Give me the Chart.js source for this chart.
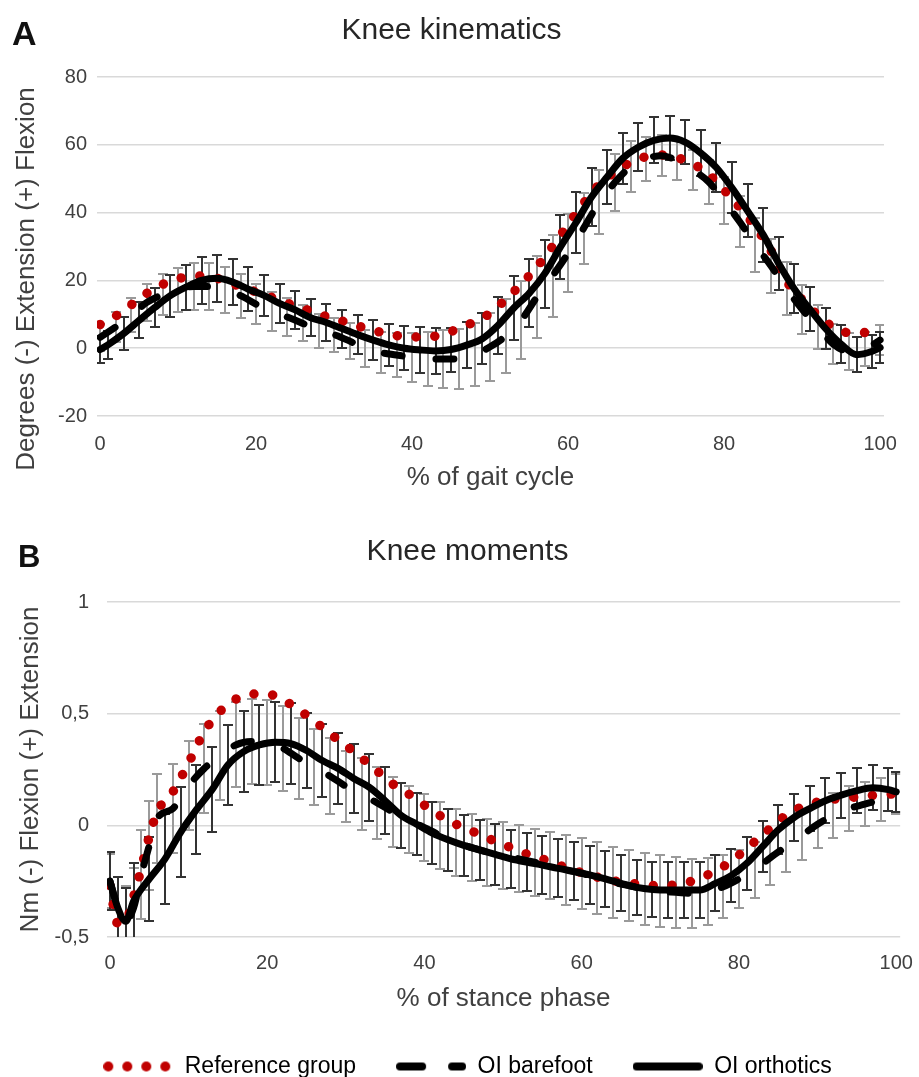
<!DOCTYPE html>
<html>
<head>
<meta charset="utf-8">
<title>Knee kinematics and knee moments</title>
<script src="https://cdn.jsdelivr.net/npm/chart.js@4.4.1/dist/chart.umd.min.js"></script>
<style>
    body { margin: 0; background: #fff; overflow: hidden; }
    .panel { position: absolute; left: 0; width: 919px; }
    .panel canvas { display: block; }
    .tag { position: absolute; font-family: 'Liberation Sans', Arial, sans-serif; font-weight: bold; line-height: 1; color: #111; }
</style>
</head>
<body>
<div class="panel" style="top:0;height:500px"><canvas id="kinematics-chart" width="919" height="500"></canvas></div>
<div class="panel" style="top:500px;height:588px"><canvas id="moments-chart" width="919" height="588"></canvas></div>
<div class="tag" style="left:12px;top:16px;font-size:34px">A</div>
<div class="tag" style="left:18px;top:541px;font-size:31px">B</div>

<script>
// ---- values ----

// A: knee angle (degrees) over the gait cycle
const gaitX = [0, 2, 4, 6, 8, 10, 12, 14, 16, 18, 20, 22, 24, 26, 28, 30, 32, 34, 36, 38,
    40, 42, 44, 46, 48, 50, 52, 54, 56, 58, 60, 62, 64, 66, 68, 70, 72, 74, 76, 78,
    80, 82, 84, 86, 88, 90, 92, 94, 96, 98, 100];
const gaitOrthoX = [0, 1, 3, 5, 7, 9, 11, 13, 15, 17, 19, 21, 23, 25, 27, 29, 31, 33, 35, 37,
    39, 41, 43, 45, 47, 49, 51, 53, 55, 57, 59, 61, 63, 65, 67, 69, 71, 73, 75, 77,
    79, 81, 83, 85, 87, 89, 91, 93, 95, 97, 99, 100];

const referenceKinematics = [7.0, 9.5, 12.8, 16.2, 18.8, 20.5, 21.3, 21.2, 19.8, 18.2,
    16.6, 15.0, 13.3, 11.8, 10.0, 8.8, 7.3, 5.9, 4.7, 3.7,
    3.3, 3.3, 4.2, 5.8, 7.8, 10.3, 14.4, 18.9, 24.0, 30.0,
    36.5, 42.8, 48.3, 52.0, 54.8, 56.5, 57.0, 56.2, 54.4, 51.3,
    46.7, 41.5, 35.8, 28.8, 19.8, 14.3, 9.8, 6.2, 4.6, 4.6, 6.2];
const barefootKinematics = [3.2, 6.3, 9.8, 13.5, 15.8, 17.3, 18.2, 18.2, 17.2, 15.5,
    13.0, 10.8, 9.2, 7.3, 5.1, 4.0, 2.1, -0.1, -1.3, -2.0,
    -2.7, -3.2, -3.2, -3.1, -1.9, 0.4, 3.6, 8.3, 15.1, 21.3,
    28.0, 35.4, 43.1, 48.9, 53.5, 55.9, 56.8, 55.3, 52.6, 49.1,
    43.5, 37.3, 30.5, 24.3, 17.5, 11.5, 6.3, 1.2, -0.9, -0.3, 2.4];
const barefootKinematicsSd = [4.0, 4.5, 5.0, 5.5, 6.0, 6.5, 7.0, 7.0, 6.8, 6.5,
    6.0, 5.8, 5.5, 5.3, 5.0, 5.0, 5.2, 5.5, 6.0, 6.5,
    7.2, 8.0, 8.5, 8.8, 9.3, 10.0, 10.8, 11.5, 12.0, 12.0,
    11.5, 10.5, 9.5, 8.5, 7.5, 6.5, 6.0, 5.8, 6.0, 6.5,
    7.0, 7.5, 8.0, 8.0, 7.8, 7.2, 6.5, 6.0, 5.5, 5.0, 4.5];
const orthoticsKinematics = [-0.4, 1.0, 4.3, 8.2, 12.0, 15.5, 18.0, 20.0, 20.6, 19.5,
    17.4, 15.6, 13.2, 11.3, 9.0, 7.6, 5.8, 4.0, 2.4, 1.0,
    0.0, -0.5, -0.8, -0.4, 0.9, 2.8, 6.7, 11.8, 16.2, 22.0,
    29.8, 37.0, 44.6, 50.5, 56.0, 59.3, 61.3, 62.0, 60.8, 57.6,
    53.3, 47.3, 40.5, 33.5, 25.0, 17.5, 11.5, 5.8, 1.2, -1.9, -0.9, 0.2];
const orthoticsKinematicsSd = [4.0, 4.2, 4.8, 5.3, 5.8, 6.2, 6.6, 7.0, 7.0, 6.8,
    6.5, 6.0, 5.8, 5.6, 5.5, 5.5, 5.6, 5.8, 6.0, 6.2,
    6.5, 6.8, 6.8, 6.5, 6.8, 7.5, 8.5, 9.5, 10.0, 10.0,
    9.5, 9.0, 8.5, 8.0, 7.5, 7.0, 6.8, 6.5, 6.5, 6.8,
    7.2, 7.5, 7.8, 8.0, 7.8, 7.2, 6.5, 6.0, 5.5, 5.2, 4.8, 4.5];

// B: knee moment (Nm) over the stance phase
const stanceX = [0, 1, 2, 3, 4, 5, 6, 8, 10, 12, 14, 16, 18, 20, 22, 24, 26, 28, 30, 32,
    34, 36, 38, 40, 42, 44, 46, 48, 50, 52, 54, 56, 58, 60, 62, 64, 66, 68, 70, 72,
    74, 76, 78, 80, 82, 84, 86, 88, 90, 92, 94, 96, 98, 100];
const stanceOrthoX = [0, 1, 2, 3, 5, 7, 9, 11, 13, 15, 17, 19, 21, 23, 25, 27, 29, 31, 33, 35,
    37, 39, 41, 43, 45, 47, 49, 51, 53, 55, 57, 59, 61, 63, 65, 67, 69, 71, 73, 75,
    77, 79, 81, 83, 85, 87, 89, 91, 93, 95, 97, 99, 100];

const referenceMoments = [-0.27, -0.44, -0.43, -0.32, -0.19, -0.05, 0.06,
    0.15, 0.28, 0.42, 0.51, 0.565, 0.588, 0.588, 0.562, 0.517, 0.467,
    0.41, 0.357, 0.302, 0.243, 0.184, 0.14, 0.09, 0.043, 0.005, -0.025,
    -0.057, -0.085, -0.115, -0.14, -0.162, -0.19, -0.212, -0.232, -0.248, -0.258,
    -0.266, -0.271, -0.266, -0.25, -0.222, -0.185, -0.133, -0.073, -0.013, 0.045,
    0.083, 0.104, 0.117, 0.124, 0.131, 0.137, 0.141];
const barefootMoments = [-0.25, -0.37, -0.43, -0.37, -0.22, -0.09, 0.03,
    0.075, 0.177, 0.255, 0.312, 0.36, 0.375, 0.37, 0.345, 0.30, 0.26,
    0.22, 0.175, 0.14, 0.10, 0.06, 0.025, -0.01, -0.045, -0.075, -0.1,
    -0.12, -0.135, -0.15, -0.165, -0.18, -0.2, -0.215, -0.235, -0.255, -0.27,
    -0.285, -0.295, -0.3, -0.305, -0.295, -0.275, -0.24, -0.2, -0.145, -0.095,
    -0.045, 0.005, 0.045, 0.075, 0.095, 0.115, 0.14];
const barefootMomentsSd = [0.12, 0.14, 0.16, 0.18, 0.2, 0.2, 0.2,
    0.2, 0.2, 0.2, 0.2, 0.19, 0.19, 0.19, 0.19, 0.18, 0.17,
    0.17, 0.16, 0.16, 0.16, 0.155, 0.15, 0.15, 0.15, 0.15, 0.15,
    0.15, 0.15, 0.15, 0.15, 0.15, 0.155, 0.16, 0.16, 0.16, 0.16,
    0.16, 0.16, 0.16, 0.155, 0.15, 0.14, 0.13, 0.125, 0.12, 0.115,
    0.11, 0.105, 0.1, 0.1, 0.1, 0.095, 0.09];
const orthoticsMoments = [-0.25, -0.37, -0.43, -0.34,
    -0.24, -0.15, -0.03, 0.07, 0.16, 0.27, 0.33, 0.36, 0.372, 0.366,
    0.335, 0.29, 0.255, 0.21, 0.17, 0.11, 0.045, 0.005, -0.035, -0.065,
    -0.09, -0.11, -0.13, -0.15, -0.165, -0.178, -0.193, -0.206, -0.222, -0.24,
    -0.26, -0.278, -0.287, -0.29, -0.29, -0.29, -0.26, -0.225, -0.17, -0.095,
    -0.02, 0.035, 0.075, 0.11, 0.135, 0.155, 0.168, 0.16, 0.15];
const orthoticsMomentsSd = [0.13, 0.14, 0.15, 0.17,
    0.19, 0.2, 0.2, 0.2, 0.19, 0.18, 0.18, 0.18, 0.18, 0.18,
    0.17, 0.165, 0.16, 0.155, 0.15, 0.15, 0.145, 0.14, 0.14, 0.14,
    0.135, 0.135, 0.135, 0.13, 0.13, 0.13, 0.13, 0.13, 0.13, 0.125,
    0.125, 0.125, 0.125, 0.125, 0.125, 0.125, 0.125, 0.12, 0.12, 0.115,
    0.11, 0.105, 0.1, 0.1, 0.1, 0.1, 0.1, 0.095, 0.09];

// tick labels
const percentTicks = [0, 20, 40, 60, 80, 100];
const degreeTicks = [-20, 0, 20, 40, 60, 80];
const momentTicks = [-0.5, 0, 0.5, 1];

const legendNames = ['Reference group', 'OI barefoot', 'OI orthotics'];

// ---- styling ----
const FONT = "'Liberation Sans', Arial, sans-serif";
const TEXT = '#404040';
const RED = '#c00000';
Chart.defaults.font.family = FONT;
Chart.defaults.color = TEXT;

/**
 * Vertical SD bars with caps, drawn under the curves
 */
const errorBarPlugin = {
    id: 'errorBars',
    beforeDatasetsDraw(chart) {
        const { ctx, chartArea, scales } = chart;
        ctx.save();
        ctx.beginPath();
        ctx.rect(chartArea.left, chartArea.top, chartArea.width, chartArea.height);
        ctx.clip();
        chart.data.datasets.forEach(ds => {
            if (!ds.errorBars) return;
            ctx.strokeStyle = ds.errorColor;
            ctx.lineWidth = 2;
            ctx.beginPath();
            ds.data.forEach((p, i) => {
                const sd = ds.errorBars[i];
                const px = Math.round(scales.x.getPixelForValue(p.x));
                const top = Math.round(scales.y.getPixelForValue(p.y + sd));
                const bottom = Math.round(scales.y.getPixelForValue(p.y - sd));
                ctx.moveTo(px, top);
                ctx.lineTo(px, bottom);
                ctx.moveTo(px - 5, top);
                ctx.lineTo(px + 5, top);
                ctx.moveTo(px - 5, bottom);
                ctx.lineTo(px + 5, bottom);
            });
            ctx.stroke();
        });
        ctx.restore();
    }
};

function points(xs, ys) {
    return xs.map((x, i) => ({ x: x, y: ys[i] }));
}

function referenceSet(xs, ys) {
    return {
        label: legendNames[0],
        data: points(xs, ys),
        borderColor: RED,
        borderWidth: 9.5,
        borderDash: [0.01, 18.8],
        borderCapStyle: 'round',
        pointRadius: 0,
        cubicInterpolationMode: 'monotone',
        order: 3
    };
}

function barefootSet(xs, ys, sd) {
    return {
        label: legendNames[1],
        data: points(xs, ys),
        borderColor: '#000',
        borderWidth: 7,
        borderDash: [18, 34],
        borderCapStyle: 'round',
        pointRadius: 0,
        cubicInterpolationMode: 'monotone',
        errorBars: sd,
        errorColor: '#9a9a9a',
        order: 2
    };
}

function orthoticsSet(xs, ys, sd) {
    return {
        label: legendNames[2],
        data: points(xs, ys),
        borderColor: '#000',
        borderWidth: 7,
        borderCapStyle: 'round',
        borderJoinStyle: 'round',
        pointRadius: 0,
        cubicInterpolationMode: 'monotone',
        errorBars: sd,
        errorColor: '#333333',
        order: 1
    };
}

// small legend swatches: dotted, dashed, solid
function swatch(kind) {
    const c = document.createElement('canvas');
    c.width = 70;
    c.height = 14;
    const g = c.getContext('2d');
    if (kind === 'dots') {
        g.fillStyle = RED;
        [5, 24, 43, 62].forEach(cx => {
            g.beginPath();
            g.arc(cx, 7, 5, 0, Math.PI * 2);
            g.fill();
        });
    } else {
        g.strokeStyle = '#000';
        g.lineWidth = 8;
        g.lineCap = 'round';
        g.beginPath();
        if (kind === 'dash') {
            g.moveTo(4, 7); g.lineTo(26, 7);
            g.moveTo(56, 7); g.lineTo(66, 7);
        } else {
            g.moveTo(4, 7); g.lineTo(66, 7);
        }
        g.stroke();
    }
    return c;
}

function baseOptions(cfg) {
    return {
        responsive: false,
        animation: false,
        events: [],
        layout: { padding: cfg.padding },
        plugins: {
            title: {
                display: true,
                text: cfg.title,
                color: '#262626',
                font: { size: 30, weight: 'normal' },
                padding: cfg.titlePadding
            },
            legend: { display: false },
            tooltip: { enabled: false }
        },
        scales: {
            x: {
                type: 'linear',
                min: cfg.xMin,
                max: cfg.xMax,
                afterBuildTicks: axis => { axis.ticks = percentTicks.map(v => ({ value: v })); },
                afterFit: scale => { scale.height = cfg.xHeight; },
                grid: { display: false },
                border: { display: false },
                ticks: { color: TEXT, font: { size: 20 }, padding: cfg.xTickPad },
                title: {
                    display: true,
                    text: cfg.xTitle,
                    color: TEXT,
                    font: { size: 26 },
                    padding: { top: 0, bottom: cfg.xTitlePad }
                }
            },
            y: {
                min: cfg.yTicks[0],
                max: cfg.yTicks[cfg.yTicks.length - 1],
                afterBuildTicks: axis => { axis.ticks = cfg.yTicks.map(v => ({ value: v })); },
                afterFit: scale => { scale.width = cfg.yWidth; },
                grid: { color: '#d9d9d9', lineWidth: 1.5, drawTicks: false },
                border: { display: false },
                ticks: {
                    color: TEXT,
                    font: { size: 20 },
                    padding: cfg.yTickPad,
                    callback: v => String(v).replace('.', ',')
                },
                title: {
                    display: true,
                    text: cfg.yTitle,
                    color: TEXT,
                    font: { size: 26 },
                    padding: { top: cfg.yTitlePad, bottom: 0 }
                }
            }
        }
    };
}

// ---- A: knee kinematics ----
new Chart(document.getElementById('kinematics-chart'), {
    type: 'line',
    data: {
        datasets: [
            referenceSet(gaitX, referenceKinematics),
            barefootSet(gaitX, barefootKinematics, barefootKinematicsSd),
            orthoticsSet(gaitOrthoX, orthoticsKinematics, orthoticsKinematicsSd)
        ]
    },
    options: baseOptions({
        title: 'Knee kinematics',
        titlePadding: { top: 13, bottom: 28 },
        padding: { left: 19, right: 35, top: 0, bottom: 0 },
        xMin: -0.4, xMax: 100.5,
        xHeight: 84, xTickPad: 8, xTitlePad: 6.4,
        xTitle: '% of gait cycle',
        yTicks: degreeTicks,
        yWidth: 78, yTickPad: 10, yTitlePad: -7.6,
        // trailing spaces push the rotated title down, as in the original
        yTitle: 'Degrees (-) Extension (+) Flexion\u00a0\u00a0\u00a0\u00a0\u00a0\u00a0\u00a0\u00a0\u00a0'
    }),
    plugins: [errorBarPlugin]
});

// ---- B: knee moments ----
const momentOptions = baseOptions({
    title: 'Knee moments',
    titlePadding: { top: 34, bottom: 32 },
    padding: { left: 33, right: 17, top: 0, bottom: 0 },
    xMin: -0.38, xMax: 100.5,
    xHeight: 78, xTickPad: 6, xTitlePad: 0.4,
    xTitle: '% of stance phase',
    yTicks: momentTicks,
    yWidth: 74, yTickPad: 18, yTitlePad: -17.6,
    yTitle: 'Nm (-) Flexion (+) Extension'
});

const swatches = [swatch('dots'), swatch('dash'), swatch('solid')];
momentOptions.plugins.legend = {
    display: true,
    position: 'bottom',
    labels: {
        color: TEXT,
        font: { size: 23 },
        usePointStyle: true,
        pointStyleWidth: 70,
        padding: 40,
        generateLabels: () => legendNames.map((name, i) => ({
            text: name,
            pointStyle: swatches[i],
            fillStyle: 'rgba(0,0,0,0)',
            strokeStyle: 'rgba(0,0,0,0)',
            lineWidth: 0,
            hidden: false,
            datasetIndex: i
        }))
    }
};

new Chart(document.getElementById('moments-chart'), {
    type: 'line',
    data: {
        datasets: [
            referenceSet(stanceX, referenceMoments),
            barefootSet(stanceX, barefootMoments, barefootMomentsSd),
            orthoticsSet(stanceOrthoX, orthoticsMoments, orthoticsMomentsSd)
        ]
    },
    options: momentOptions,
    plugins: [errorBarPlugin]
});
</script>
</body>
</html>
